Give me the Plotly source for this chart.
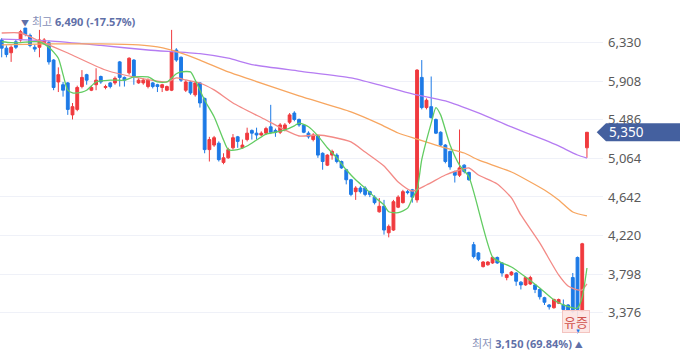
import plotly.graph_objects as go

# ---------------- data ----------------
idx = list(range(125))
opens = [6360,6270,6220,6340,6360,6490,6410,6280,6280,6330,6330,6140,5900,5870,5890,5540,5600,5850,5980,5810,
         5870,5960,5840,5890,5890,6120,5950,6000,6140,5890,5890,5850,5890,5870,5840,5810,5810,6250,6170,5810,
         5900,5760,5890,5720,5160,5210,5230,5020,5070,5180,5300,5180,5270,5370,5340,5320,5340,5410,5370,5350,
         5380,5460,5560,5490,5430,5340,5270,5310,5120,4990,5100,5100,5030,4940,4830,4700,4740,4740,4700,4640,
         4480,4540,4250,4280,4530,4580,4700,4720,4610,5950,5620,5630,5490,5350,5210,5140,4920,4880,4990,4910,
         4120,4030,3880,3900,3920,3980,3920,3760,3790,3810,3710,3680,3690,3680,3630,3540,3460,3430,3480,3460,
         3460,3760,3980,3390,5180]
highs = [6380,6300,6300,6360,6470,6490,6430,6310,6470,6380,6350,6150,6060,5900,5900,5670,5860,6030,5990,5860,
         6050,5970,5870,5900,5960,6130,5960,6170,6150,5940,5940,5940,5900,5880,5880,5860,6470,6270,6180,5920,
         5910,5900,5900,5730,5300,5310,5250,5120,5180,5330,5310,5270,5400,5380,5400,5360,5410,5650,5390,5450,
         5450,5560,5580,5500,5440,5360,5340,5320,5130,5110,5160,5120,5040,4950,4840,4760,4760,4760,4710,4660,
         4630,4610,4340,4610,4660,4720,4720,4730,6040,6140,5720,5960,5500,5360,5220,5150,4930,5380,5000,4920,
         4150,4040,3940,3940,3990,3990,3930,3800,3830,3820,3720,3770,3780,3690,3640,3550,3470,3530,3530,3520,
         3470,3810,3990,4140,5350]
lows = [6170,6170,6120,6260,6340,6400,6280,6230,6170,6310,6090,5810,5790,5740,5540,5490,5580,5830,5870,5800,
        5810,5880,5820,5830,5870,5850,5850,5980,5870,5880,5870,5830,5830,5790,5790,5800,5800,6120,5900,5790,
        5760,5740,5620,5120,5030,5190,5030,5000,5060,5160,5180,5170,5250,5270,5270,5310,5320,5330,5300,5330,
        5360,5440,5470,5410,5340,5280,5250,5070,4940,4980,5050,5010,4950,4780,4650,4610,4680,4650,4640,4560,
        4470,4230,4200,4270,4520,4570,4670,4580,4580,5600,5600,5500,5330,5190,5010,4940,4800,4860,4900,4820,
        3970,3940,3870,3890,3910,3910,3770,3730,3780,3670,3630,3670,3680,3590,3520,3460,3410,3420,3470,3400,
        3390,3370,3150,3380,5070]
closes = [6270,6200,6280,6280,6450,6420,6300,6260,6360,6360,6120,5840,5980,5810,5600,5630,5840,5950,5920,5840,
          5920,5900,5850,5850,5940,5950,5920,6160,5960,5920,5920,5920,5850,5850,5870,5850,6230,6140,5920,5900,
          5780,5890,5670,5160,5270,5290,5050,5070,5160,5290,5250,5210,5340,5340,5320,5340,5390,5350,5350,5430,
          5430,5540,5490,5430,5350,5300,5320,5100,5030,5100,5140,5030,4960,4830,4670,4740,4700,4670,4670,4580,
          4540,4280,4320,4590,4640,4700,4690,4640,6030,5620,5700,5510,5340,5210,5030,4970,4880,4960,4920,4830,
          3990,3960,3930,3930,3980,3920,3810,3790,3820,3720,3680,3760,3760,3630,3550,3490,3440,3520,3520,3410,
          3400,3390,3410,4130,5350]

ma5_idx = [0,2,4,6,8,10,12,13,14,15,17,18,20,23,26,28,31,33,35,37,38,40,41,43,45,47,48,50,52,54,56,58,60,62,63,
           65,67,69,71,73,75,77,79,81,82,84,86,87,88,89,91,92,93,95,97,99,104,106,108,111,114,117,119,122,123,124]
ma5_val = [6340,6330,6330,6340,6340,6280,6160,5980,5810,5780,5790,5810,5900,5920,5920,5955,5955,5900,5900,5990,
           6010,6010,5920,5700,5520,5265,5160,5160,5200,5265,5330,5350,5375,5420,5450,5410,5310,5180,5070,4940,
           4830,4740,4640,4555,4480,4470,4520,4630,4720,5050,5450,5620,5540,5210,4990,4860,3985,3920,3876,3766,
           3646,3515,3461,3427,3548,3865]

ma20_idx = [0,4,8,14,22,29,35,37,39,42,45,49,56,60,63,67,70,74,77,81,84,87,90,94,97,99,101,105,108,110,114,
            118,120,122,123,124]
ma20_val = [6436,6436,6349,6217,6031,5944,5900,5944,5922,5889,5813,5670,5484,5375,5309,5320,5298,5244,5134,4981,
            4806,4707,4773,4882,4937,4959,4882,4784,4631,4445,4139,3789,3668,3625,3625,3690]

ma60_idx = [0,10,21,29,33,38,42,48,53,63,74,80,84,88,94,98,101,108,115,118,121,124]
ma60_val = [6305,6316,6316,6305,6283,6217,6140,6010,5922,5747,5572,5441,5342,5276,5178,5123,5047,4915,4718,4609,
            4478,4434]

ma120_idx = [0,10,21,31,42,48,53,63,74,80,87,94,101,108,115,118,122,124]
ma120_val = [6370,6350,6300,6250,6210,6160,6090,6020,5945,5868,5770,5693,5561,5408,5266,5200,5101,5068]

tick_vals = [3376, 3798, 4220, 4642, 5064, 5486, 5908, 6330]
tick_text = [f"{v:,}" for v in tick_vals]

high_idx, high_val, high_txt = 5, 6490, "-17.57%"
low_idx, low_val, low_txt = 122, 3150, "69.84%"
last_price = closes[-1]
event_idx, event_label = 122, "유증"

Y_MIN, Y_MAX = 2880, 6797
X_MIN, X_MAX = -0.36, 127.4

# ---------------- figure ----------------
fig = go.Figure()

for ix, vals, col in [(ma120_idx, ma120_val, "#b57cf2"),
                      (ma60_idx, ma60_val, "#f7a660"),
                      (ma20_idx, ma20_val, "#f38a86"),
                      (ma5_idx, ma5_val, "#62cc62")]:
    fig.add_trace(go.Scatter(x=ix, y=vals, mode="lines",
                             line=dict(color=col, width=1.3, shape="spline", smoothing=0.6),
                             hoverinfo="skip", showlegend=False))

fig.add_trace(go.Candlestick(
    x=idx, open=opens, high=highs, low=lows, close=closes,
    increasing=dict(line=dict(color="#f03a3e", width=1), fillcolor="#f03a3e"),
    decreasing=dict(line=dict(color="#1d7ae6", width=1), fillcolor="#1d7ae6"),
    whiskerwidth=0, showlegend=False))

H = 358.0
W_PLOT = 603.0
def ypaper(v):
    return (v - Y_MIN) / (Y_MAX - Y_MIN)

# price tag
yc = ypaper(last_price)
hh = 9.0 / H
x_tip = 596.7 / W_PLOT
x_l = 606.0 / W_PLOT
x_r = 680.0 / W_PLOT
path = (f"M {x_tip} {yc} L {x_l} {yc+hh} L {x_r} {yc+hh} L {x_r} {yc-hh} L {x_l} {yc-hh} Z")
fig.add_shape(type="path", path=path, xref="paper", yref="paper",
              fillcolor="#44609f", line=dict(width=0), layer="above")
fig.add_annotation(x=607.0 / W_PLOT, y=yc, xref="paper", yref="paper", xanchor="left", yanchor="middle",
                   text=f"{last_price:,}", showarrow=False,
                   font=dict(family="Noto Sans, sans-serif", size=13.5, color="white"))

LBL_FONT = "Noto Sans, Noto Sans CJK KR, sans-serif"
# high annotation
fig.add_annotation(x=high_idx, y=high_val, xanchor="left", yanchor="middle", xshift=-6, yshift=7,
                   showarrow=False,
                   text=(f"<span style='font-size:8px'>▼</span> <span style='color:#8790b8'>최고</span> "
                         f"<b>{high_val:,} ({high_txt})</b>"),
                   font=dict(family=LBL_FONT, size=11, color="#5f70a8"))

# low annotation
fig.add_annotation(x=low_idx, y=low_val, xanchor="right", yanchor="middle", xshift=7, yshift=-10,
                   showarrow=False,
                   text=(f"<span style='color:#8790b8'>최저</span> <b>{low_val:,} ({low_txt})</b> "
                         f"<span style='font-size:8px'>▲</span>"),
                   font=dict(family=LBL_FONT, size=11, color="#5f70a8"))

# event marker
fig.add_annotation(x=event_idx, y=lows[event_idx], xanchor="center", yanchor="middle", xshift=-2, yshift=12,
                   showarrow=False, text=event_label,
                   font=dict(family="Noto Sans CJK KR, sans-serif", size=13, color="#d0524c"),
                   bgcolor="rgba(253,229,227,0.92)", bordercolor="#f4c4c0", borderwidth=1, borderpad=1)
fig.add_annotation(x=event_idx, y=lows[event_idx], xanchor="center", yanchor="middle", yshift=2,
                   showarrow=False, text="▼", font=dict(size=6, color="#1d7ae6"))

fig.update_layout(
    width=680, height=358,
    margin=dict(l=0, r=77, t=0, b=0),
    paper_bgcolor="white", plot_bgcolor="white",
    boxgap=0.4, boxgroupgap=0,
    xaxis=dict(range=[X_MIN, X_MAX], showgrid=False, zeroline=False, showticklabels=False,
               rangeslider=dict(visible=False), fixedrange=True),
    yaxis=dict(range=[Y_MIN, Y_MAX], side="right", tickvals=tick_vals, ticktext=tick_text,
               showgrid=True, gridcolor="#eff1f8", gridwidth=1, zeroline=False, fixedrange=True,
               tickfont=dict(family="Noto Sans, sans-serif", size=13, color="#5a5a5a"),
               ticklabelstandoff=4),
    showlegend=False,
    hovermode=False,
)

fig.write_html("out.html", config={"displayModeBar": False, "staticPlot": True},
               post_script="document.body.style.margin='0px';document.body.style.overflow='hidden';")
